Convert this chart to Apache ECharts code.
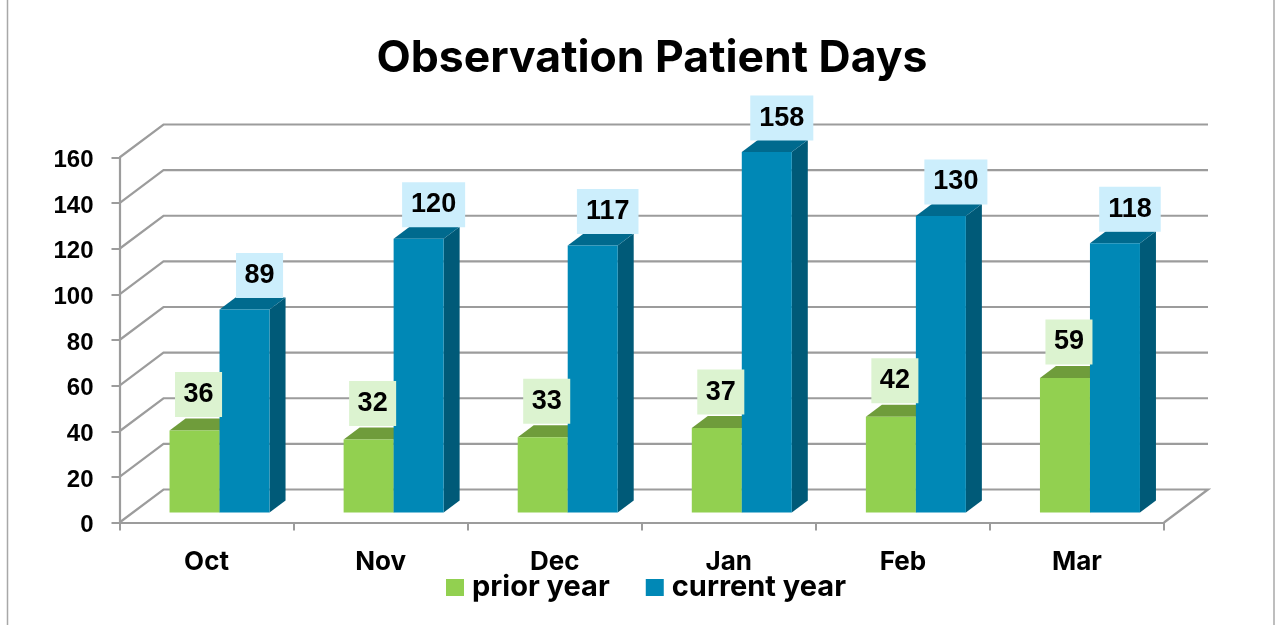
<!DOCTYPE html>
<html>
<head>
<meta charset="utf-8">
<style>html,body{margin:0;padding:0;background:#fff}#c{width:1276px;height:625px}</style>
<script src="https://cdn.jsdelivr.net/npm/echarts@6/dist/echarts.min.js"></script>
</head>
<body>
<div id="c"></div>
<script>
var categories = ['Oct', 'Nov', 'Dec', 'Jan', 'Feb', 'Mar'];
var priorYear = [36, 32, 33, 37, 42, 59];
var currentYear = [89, 120, 117, 158, 130, 118];
var yTicks = [0, 20, 40, 60, 80, 100, 120, 140, 160];

var GRAY = '#9c9c9c';
var wall = { dx: 44, dy: -33 };
var bar = { w: 50, baseShiftX: 13, baseShiftY: -10, sideX: 16, sideY: -12 };
var numFont = 'bold 27px "Liberation Sans"';
var catFont = 'Inter';

var chart = echarts.init(document.getElementById('c'), null, { renderer: 'canvas' });

function pairs(arr) { return arr.map(function (v, i) { return [i, v]; }); }

function renderGrid(params, api) {
  var cs = params.coordSys;
  var v = api.value(1);
  var y = api.coord([0, v])[1];
  var pts = [[cs.x, y], [cs.x + wall.dx, y + wall.dy], [cs.x + cs.width + wall.dx, y + wall.dy]];
  if (v === 0) pts.push([cs.x + cs.width, y]);
  return { type: 'polyline', shape: { points: pts }, silent: true,
    style: { stroke: GRAY, lineWidth: 2.2, fill: null } };
}

function barRenderer(slot, cFront, cTop, cSide) {
  return function (params, api) {
    var p = api.coord([api.value(0), api.value(1)]);
    var b = api.coord([api.value(0), 0]);
    var x0 = p[0] + bar.baseShiftX + slot * bar.w;
    var x1 = x0 + bar.w;
    var yT = p[1] + bar.baseShiftY;
    var yB = b[1] + bar.baseShiftY;
    var sx = bar.sideX, sy = bar.sideY;
    return { type: 'group', children: [
      { type: 'polygon', shape: { points: [[x1, yT], [x1 + sx, yT + sy], [x1 + sx, yB + sy], [x1, yB]] }, style: { fill: cSide } },
      { type: 'polygon', shape: { points: [[x0, yT], [x0 + sx, yT + sy], [x1 + sx, yT + sy], [x1, yT]] }, style: { fill: cTop } },
      { type: 'rect', shape: { x: x0, y: yT, width: bar.w, height: yB - yT }, style: { fill: cFront } }
    ] };
  };
}

function labelRenderer(shiftX, shiftY, bg) {
  return function (params, api) {
    var p = api.coord([api.value(0), api.value(1)]);
    var s = String(api.value(1));
    return { type: 'text', silent: true, x: p[0] + shiftX, y: p[1] + shiftY,
      style: { text: s, font: numFont, fill: '#000', align: 'center', verticalAlign: 'middle',
        backgroundColor: bg, padding: [9, s.length > 2 ? 9 : 8.5], lineHeight: 27 } };
  };
}

function custom(name, data, render, z, color) {
  var s = { type: 'custom', name: name, data: data, renderItem: render, z: z, clip: false,
    encode: { x: 0, y: 1 }, silent: true, animation: false };
  if (color) s.itemStyle = { color: color };
  return s;
}

chart.setOption({
  animation: false,
  title: {
    text: 'Observation Patient Days', left: 647, top: 31, textAlign: 'center',
    textStyle: { fontFamily: catFont, fontWeight: 'bold', fontSize: 44.5, color: '#000' }
  },
  legend: {
    left: 446, top: 573, padding: 0, itemWidth: 18, itemHeight: 17, itemGap: 36, icon: 'rect',
    data: ['prior year', 'current year'],
    textStyle: { fontFamily: catFont, fontWeight: 'bold', fontSize: 29, color: '#000', padding: [0, 0, 0, 3] }
  },
  grid: { left: 119.5, right: 112, top: 157.5, bottom: 102.5, containLabel: false },
  xAxis: {
    type: 'category', data: categories, boundaryGap: true,
    axisLine: { lineStyle: { color: GRAY, width: 2.2 } },
    axisTick: { show: true, alignWithLabel: false, length: 8, lineStyle: { color: GRAY, width: 2 } },
    axisLabel: { margin: 27, fontFamily: catFont, fontWeight: 'bold', fontSize: 26, color: '#000' },
    splitLine: { show: false }
  },
  yAxis: {
    type: 'value', min: 0, max: 160, interval: 20,
    axisLine: { show: true, lineStyle: { color: GRAY, width: 2.2 } },
    axisTick: { show: true, length: 8, lineStyle: { color: GRAY, width: 2 } },
    axisLabel: {
      margin: 26, formatter: '{t|{value}}',
      rich: { t: { fontFamily: 'Liberation Sans', fontWeight: 'bold', fontSize: 24, color: '#000', padding: [6, 0, 0, 0] } }
    },
    splitLine: { show: false }
  },
  graphic: [
    { type: 'line', shape: { x1: 7.5, y1: 0, x2: 7.5, y2: 625 }, style: { stroke: '#a8a8a8', lineWidth: 1.5 } },
    { type: 'line', shape: { x1: 1274, y1: 0, x2: 1274, y2: 625 }, style: { stroke: '#a8a8a8', lineWidth: 1.5 } }
  ],
  series: [
    custom('grid', yTicks.map(function (v) { return [0, v]; }), renderGrid, 1),
    custom('prior year', pairs(priorYear), barRenderer(-1, '#92D050', '#6F9C3B', '#5f8a33'), 3, '#92D050'),
    custom('current year', pairs(currentYear), barRenderer(0, '#0088B6', '#006A8E', '#005A78'), 4, '#0088B6'),
    custom('prior labels', pairs(priorYear), labelRenderer(-8, -46, '#DCF3D0'), 5),
    custom('current labels', pairs(currentYear), labelRenderer(53, -44, '#CCEEFC'), 5)
  ]
});
</script>
</body>
</html>
